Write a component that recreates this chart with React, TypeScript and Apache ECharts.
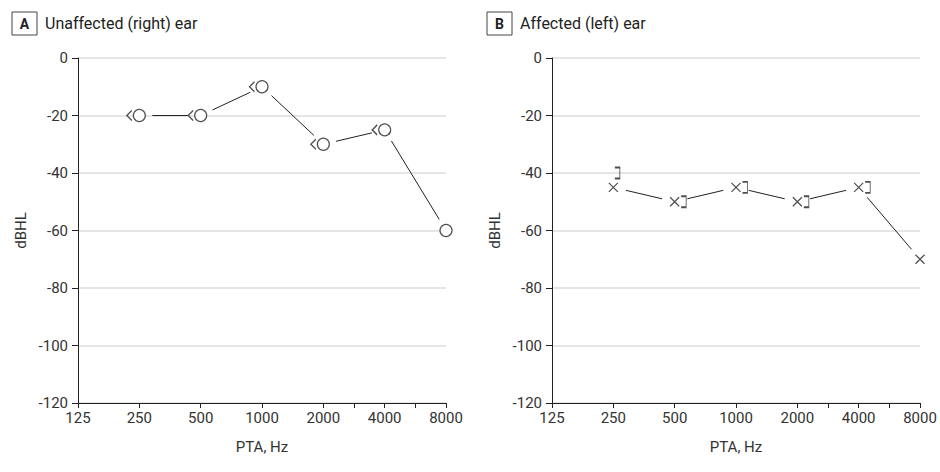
import React, { useEffect, useRef } from "react";
import * as echarts from "echarts";

// Frequencies (Hz) and their octave positions on the x axis
const freqLabels = ["125", "250", "500", "1000", "2000", "4000", "8000"];
const freqPositions = [0, 1, 2, 3, 4, 5, 6];
const tickPositions = [0, 1, 2, 3, 4, 4.5, 5, 5.5, 6];
const yTicks = [0, -20, -40, -60, -80, -100, -120];

// Panel A: unaffected (right) ear
const rightAirFreqPos = [1, 2, 3, 4, 5, 6];
const rightAir = [-20, -20, -10, -30, -25, -60];
const rightBoneFreqPos = [1, 2, 3, 4, 5];
const rightBone = [-20, -20, -10, -30, -25];

// Panel B: affected (left) ear
const leftAirFreqPos = [1, 2, 3, 4, 5, 6];
const leftAir = [-45, -50, -45, -50, -45, -70];
const leftBoneFreqPos = [1, 2, 3, 4, 5];
const leftBone = [-40, -50, -45, -50, -45];

const titleA = "Unaffected (right) ear";
const titleB = "Affected (left) ear";

const FONT = "Roboto";
const TEXT = "#333";
const INK = "#222";

function pairs(xs: number[], ys: number[]) {
  return xs.map((x, i) => [x, ys[i]]);
}
function segments(xs: number[], ys: number[]) {
  const out: number[][] = [];
  for (let i = 0; i < xs.length - 1; i++) out.push([xs[i], ys[i], xs[i + 1], ys[i + 1]]);
  return out;
}

export default function App() {
  const ref = useRef<HTMLDivElement>(null);
  useEffect(() => {
    if (!ref.current) return;
    const chart = echarts.init(ref.current, undefined, { renderer: "svg" });

    const GAP = 13;
    const renderSeg = (params: any, api: any) => {
      const a = api.coord([api.value(0), api.value(1)]);
      const b = api.coord([api.value(2), api.value(3)]);
      const dx = b[0] - a[0];
      const dy = b[1] - a[1];
      const len = Math.sqrt(dx * dx + dy * dy);
      const ux = dx / len;
      const uy = dy / len;
      return {
        type: "line",
        shape: {
          x1: a[0] + ux * GAP,
          y1: a[1] + uy * GAP,
          x2: b[0] - ux * GAP,
          y2: b[1] - uy * GAP,
        },
        style: { stroke: INK, lineWidth: 1 },
      };
    };

    const xAxisBase = (gridIndex: number) => ({
      type: "value",
      gridIndex,
      min: 0,
      max: 6,
      interval: 1,
      name: "PTA, Hz",
      nameLocation: "middle",
      nameGap: 36,
      nameTextStyle: { fontFamily: FONT, fontSize: 15, color: TEXT },
      axisLine: { show: true, onZero: false, lineStyle: { color: INK, width: 1 } },
      axisTick: { show: true, length: 5, customValues: tickPositions, lineStyle: { color: INK } },
      axisLabel: {
        customValues: freqPositions,
        margin: 7,
        fontFamily: FONT,
        fontSize: 15,
        color: TEXT,
        formatter: (v: number) => freqLabels[Math.round(v)] ?? "",
      },
      splitLine: { show: false },
    });

    const yAxisBase = (gridIndex: number) => ({
      type: "value",
      gridIndex,
      min: -120,
      max: 0,
      interval: 20,
      name: "dBHL",
      nameLocation: "middle",
      nameGap: 50,
      nameTextStyle: { fontFamily: FONT, fontSize: 15, color: TEXT },
      axisLine: { show: true, lineStyle: { color: INK, width: 1 } },
      axisTick: { show: true, length: 6, customValues: yTicks, lineStyle: { color: INK } },
      axisLabel: { margin: 10, fontFamily: FONT, fontSize: 15, color: TEXT },
      splitLine: { show: true, lineStyle: { color: "#dddddd", width: 1.5 } },
    });

    const circleStyle = { color: "#fff", borderColor: INK, borderWidth: 1.2 };
    const strokeStyle = { color: "none", borderColor: INK, borderWidth: 1.2 };

    const bracketPath = "path://M0 0 H5 V11 H0";
    const chevronPath = "path://M5 0 L0 5 L5 10";
    const crossPath = "path://M0 0 L10 10 M10 0 L0 10";

    const leftBoneData = leftBoneFreqPos.map((x, i) => {
      const coincide = leftAir[i] === leftBone[i];
      return { value: [x, leftBone[i]], symbolOffset: [coincide ? 9 : 4, 0] };
    });

    const titleGraphic = (x: number, letter: string, title: string) => [
      {
        type: "rect",
        shape: { x: x, y: 12, width: 25, height: 23 },
        style: { fill: "#fff", stroke: "#444", lineWidth: 1 },
      },
      {
        type: "text",
        x: x + 12.5,
        y: 23.5,
        style: {
          text: letter,
          fontFamily: FONT,
          fontSize: 14,
          fontWeight: "bold",
          fill: "#222",
          align: "center",
          verticalAlign: "middle",
        },
      },
      {
        type: "text",
        x: x + 33,
        y: 23.5,
        style: {
          text: title,
          fontFamily: FONT,
          fontSize: 16,
          fill: "#222",
          align: "left",
          verticalAlign: "middle",
        },
      },
    ];

    chart.setOption({
      animation: false,
      backgroundColor: "#fff",
      graphic: [...titleGraphic(12, "A", titleA), ...titleGraphic(487, "B", titleB)],
      grid: [
        { left: 78, top: 58, width: 368, height: 345 },
        { left: 552, top: 58, width: 368, height: 345 },
      ],
      xAxis: [xAxisBase(0), xAxisBase(1)],
      yAxis: [yAxisBase(0), yAxisBase(1)],
      series: [
        {
          type: "custom",
          xAxisIndex: 0,
          yAxisIndex: 0,
          data: segments(rightAirFreqPos, rightAir),
          renderItem: renderSeg,
          silent: true,
        },
        {
          type: "scatter",
          xAxisIndex: 0,
          yAxisIndex: 0,
          data: pairs(rightBoneFreqPos, rightBone),
          symbol: chevronPath,
          symbolSize: [5, 10],
          symbolOffset: [-10, 0],
          itemStyle: strokeStyle,
        },
        {
          type: "scatter",
          xAxisIndex: 0,
          yAxisIndex: 0,
          data: pairs(rightAirFreqPos, rightAir),
          symbol: "circle",
          symbolSize: 12,
          itemStyle: circleStyle,
        },
        {
          type: "custom",
          xAxisIndex: 1,
          yAxisIndex: 1,
          data: segments(leftAirFreqPos, leftAir),
          renderItem: renderSeg,
          silent: true,
        },
        {
          type: "scatter",
          xAxisIndex: 1,
          yAxisIndex: 1,
          data: leftBoneData,
          symbol: bracketPath,
          symbolSize: [5, 11],
          itemStyle: strokeStyle,
        },
        {
          type: "scatter",
          xAxisIndex: 1,
          yAxisIndex: 1,
          data: pairs(leftAirFreqPos, leftAir),
          symbol: crossPath,
          symbolSize: 9,
          itemStyle: strokeStyle,
        },
      ],
    });
    return () => chart.dispose();
  }, []);
  return <div ref={ref} style={{ width: 940, height: 472, position: "absolute", left: 0, top: 0 }} />;
}
